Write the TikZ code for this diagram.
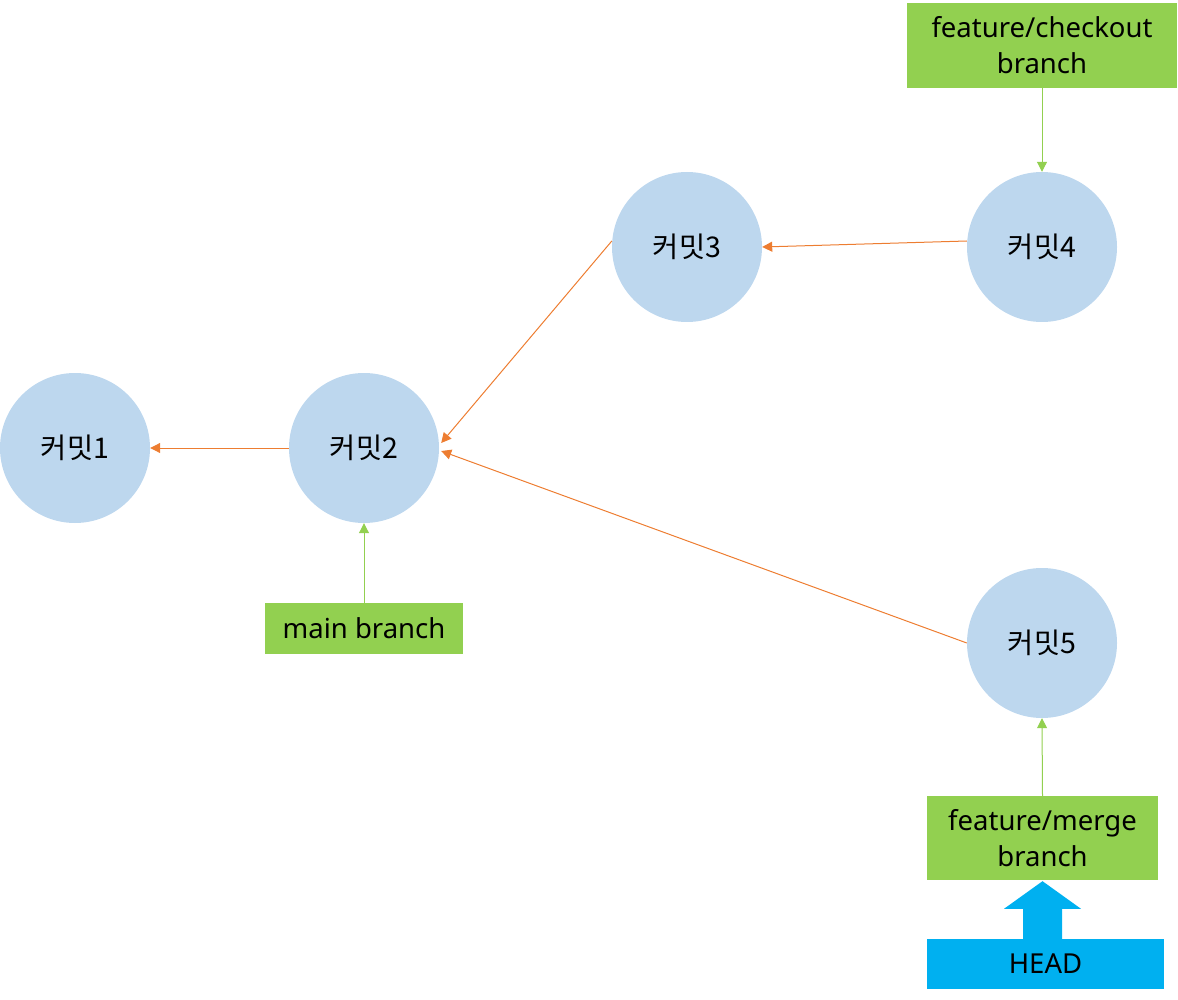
\documentclass[tikz,border=0pt]{standalone}
\usepackage{fontspec}
\setmainfont{Noto Sans}
\newfontfamily\kr{Noto Sans CJK KR}
\usetikzlibrary{arrows.meta,calc}
\definecolor{commitblue}{HTML}{BDD7EE}
\definecolor{linkorange}{HTML}{ED7D31}
\definecolor{branchgreen}{HTML}{92D050}
\definecolor{headblue}{HTML}{00B0F0}
\begin{document}
\begin{tikzpicture}[x=1pt,y=-1pt,
  commit/.style={circle,fill=commitblue,minimum size=150pt,inner sep=0pt,font=\kr\fontsize{28.5}{34}\selectfont},
  branchbox/.style={fill=branchgreen,inner sep=0pt,align=center,font=\fontsize{27.5}{36}\selectfont},
  headbox/.style={fill=headblue,inner sep=0pt,font=\fontsize{27.5}{34}\selectfont},
  parent/.style={draw=linkorange,line width=1pt,-{Triangle[length=10pt,width=10pt]}},
  pointer/.style={draw=branchgreen,line width=1pt,-{Triangle[length=10pt,width=10pt]}}]
\useasboundingbox (0,0) rectangle (1178,1000);
\node[commit] (c1) at (75,448) {커밋1};
\node[commit] (c2) at (364,448) {커밋2};
\node[commit] (c3) at (687,247) {커밋3};
\node[commit] (c4) at (1042,247) {커밋4};
\node[commit] (c5) at (1042,643) {커밋5};
\node[branchbox,minimum width=270pt,minimum height=85pt] (bcheck) at (1042,45.5) {feature/checkout\\branch};
\node[branchbox,minimum width=198pt,minimum height=51pt] (bmain) at (364,628.5) {main branch};
\node[branchbox,minimum width=231pt,minimum height=84pt] (bmerge) at (1042.5,838) {feature/merge\\branch};
\node[headbox,minimum width=237pt,minimum height=50pt] (head) at (1045.5,964) {HEAD};
\draw[parent] (c2.west) -- (c1.east);
\draw[parent] (c3.west) ++(0,-6) coordinate (c3out) (c3out) -- ($(c2.east)+(2,-5)$);
\draw[parent] (c4.west) ++(0,-6) coordinate (c4out) (c4out) -- (c3.east);
\draw[parent] (c5.west) -- ($(c2.east)+(2,3)$);
\draw[pointer] (bcheck.south) -- (c4.north);
\draw[pointer] (bmain.north) -- (c2.south);
\draw[pointer] (bmerge.north) -- (c5.south);
\fill[headblue] ($(head.north)+(-22.5,0)$) -- ++(0,-30) -- ++(-19,0) -- ($(bmerge.south)+(0,1)$) -- ($(head.north)+(35.5,-30)$) -- ++(-19,0) -- ++(0,30) -- cycle;
\end{tikzpicture}
\end{document}
